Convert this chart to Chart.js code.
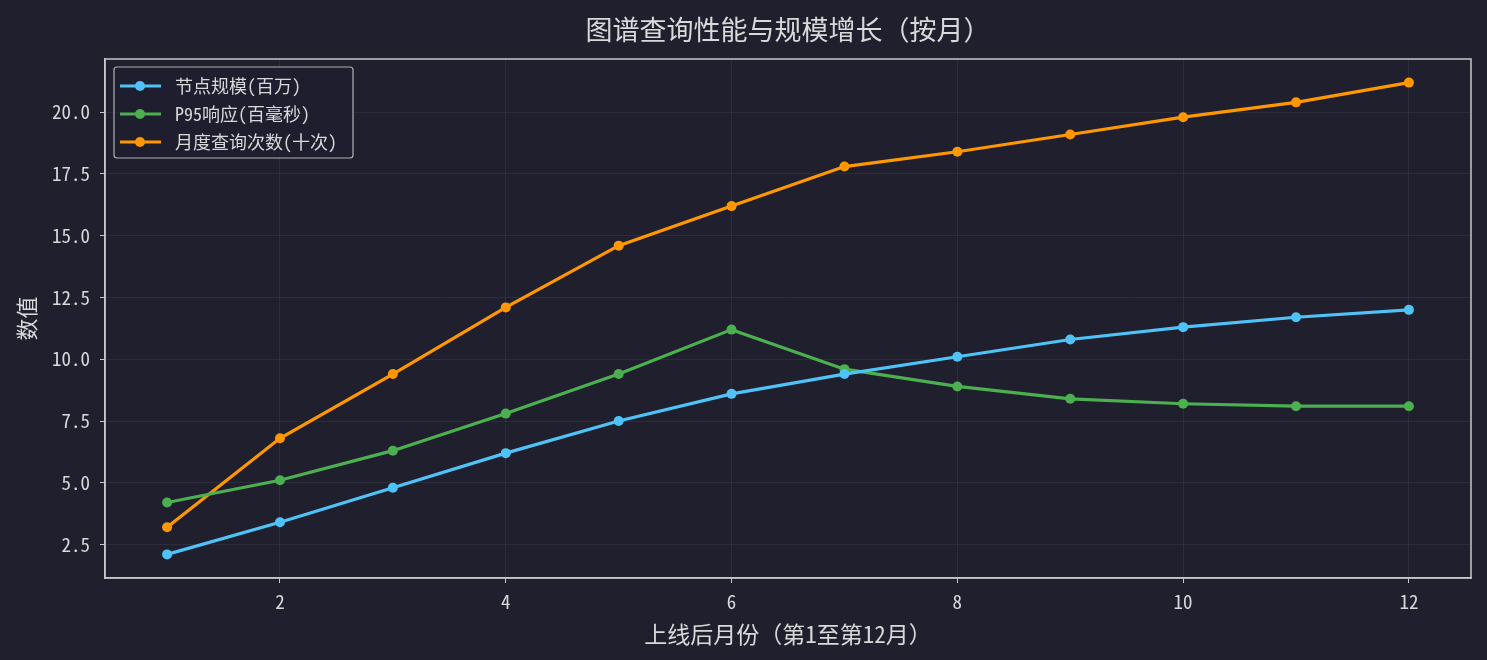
<!DOCTYPE html>
<html>
<head>
<meta charset="utf-8">
<script src="https://cdn.jsdelivr.net/npm/chart.js@4.4.0/dist/chart.umd.min.js"></script>
<style>
  html, body { margin: 0; padding: 0; background: #1f1f2e; }
  #wrap { width: 1487px; height: 660px; }
</style>
</head>
<body>
<div id="wrap"><canvas id="chart"></canvas></div>
<script>
// data
const months = [1, 2, 3, 4, 5, 6, 7, 8, 9, 10, 11, 12];
const nodeScale = [2.1, 3.4, 4.8, 6.2, 7.5, 8.6, 9.4, 10.1, 10.8, 11.3, 11.7, 12.0];
const p95Latency = [4.2, 5.1, 6.3, 7.8, 9.4, 11.2, 9.6, 8.9, 8.4, 8.2, 8.1, 8.1];
const monthlyQueries = [3.2, 6.8, 9.4, 12.1, 14.6, 16.2, 17.8, 18.4, 19.1, 19.8, 20.4, 21.2];
const seriesLabels = ['节点规模(百万)', 'P95响应(百毫秒)', '月度查询次数(十次)'];
const chartTitle = '图谱查询性能与规模增长（按月）';

const FONT = "'Noto Sans Mono CJK SC', 'Noto Sans CJK SC', sans-serif";
const TEXT = '#d9d9d9';
const SPINE = '#c8c8c8';
const GRID = 'rgba(255,255,255,0.06)';

function toPoints(ys) {
  return months.map((m, i) => ({ x: m, y: ys[i] }));
}

function makeSet(label, ys, color) {
  return {
    label: label,
    data: toPoints(ys),
    borderColor: color,
    backgroundColor: color,
    borderWidth: 3.2,
    pointRadius: 5,
    pointHoverRadius: 5,
    pointBorderWidth: 0,
    tension: 0,
    fill: false
  };
}

// title over the plot, frame on all four sides, legend inside the plot
const framePlugin = {
  id: 'frame',
  afterDraw(chart) {
    const { ctx, chartArea: a } = chart;
    ctx.save();
    ctx.fillStyle = TEXT;
    ctx.font = '27px ' + FONT;
    ctx.textAlign = 'center';
    ctx.textBaseline = 'middle';
    ctx.fillText(chartTitle, (a.left + a.right) / 2, 30);
    ctx.textAlign = 'left';

    ctx.strokeStyle = SPINE;
    ctx.lineWidth = 1.5;
    ctx.strokeRect(a.left, a.top, a.right - a.left, a.bottom - a.top);

    // legend box
    const bx = a.left + 9, by = a.top + 8, bw = 239, bh = 91;
    ctx.fillStyle = 'rgba(31,31,46,0.85)';
    ctx.strokeStyle = '#b0b0b0';
    ctx.lineWidth = 1.2;
    ctx.beginPath();
    ctx.roundRect(bx, by, bw, bh, 3);
    ctx.fill();
    ctx.stroke();
    ctx.font = '18px ' + FONT;
    ctx.textBaseline = 'middle';
    chart.data.datasets.forEach((ds, i) => {
      const y = by + 19 + i * 28;
      ctx.strokeStyle = ds.borderColor;
      ctx.lineWidth = 3.2;
      ctx.beginPath();
      ctx.moveTo(bx + 6, y);
      ctx.lineTo(bx + 47, y);
      ctx.stroke();
      ctx.fillStyle = ds.borderColor;
      ctx.beginPath();
      ctx.arc(bx + 26, y, 5, 0, Math.PI * 2);
      ctx.fill();
      ctx.fillStyle = TEXT;
      ctx.fillText(ds.label, bx + 61, y);
    });
    ctx.restore();
  }
};

const ctx = document.getElementById('chart').getContext('2d');
const chart = new Chart(ctx, {
  type: 'line',
  data: {
    datasets: [
      makeSet(seriesLabels[0], nodeScale, '#4fc3f7'),
      makeSet(seriesLabels[1], p95Latency, '#4caf50'),
      makeSet(seriesLabels[2], monthlyQueries, '#ff9800')
    ]
  },
  options: {
    responsive: true,
    maintainAspectRatio: false,
    animation: false,
    layout: { padding: { left: 0, right: 16, top: 59, bottom: 0 } },
    plugins: {
      legend: { display: false },
      tooltip: { enabled: false },
      title: { display: false }
    },
    scales: {
      x: {
        type: 'linear',
        min: 0.45,
        max: 12.55,
        afterFit(scale) { scale.height = 82; },
        border: { color: SPINE, width: 1.5 },
        grid: { color: GRID, tickColor: SPINE, tickLength: 5 },
        ticks: {
          stepSize: 2,
          includeBounds: false,
          color: TEXT,
          padding: 7,
          maxRotation: 0,
          font: { family: FONT, size: 19 },
          callback: v => String(v)
        },
        title: {
          display: true,
          text: '上线后月份（第1至第12月）',
          color: TEXT,
          font: { family: FONT, size: 23 },
          padding: { top: 0, bottom: 12 }
        }
      },
      y: {
        type: 'linear',
        min: 1.145,
        max: 22.155,
        afterFit(scale) { scale.width = 105; },
        border: { color: SPINE, width: 1.5 },
        grid: { color: GRID, tickColor: SPINE, tickLength: 5 },
        ticks: {
          stepSize: 2.5,
          includeBounds: false,
          color: TEXT,
          padding: 10,
          font: { family: FONT, size: 19 },
          callback: v => v.toFixed(1)
        },
        title: {
          display: true,
          text: '数值',
          color: TEXT,
          font: { family: FONT, size: 22 },
          padding: { top: 13, bottom: 0 }
        }
      }
    }
  },
  plugins: [framePlugin]
});
</script>
</body>
</html>
